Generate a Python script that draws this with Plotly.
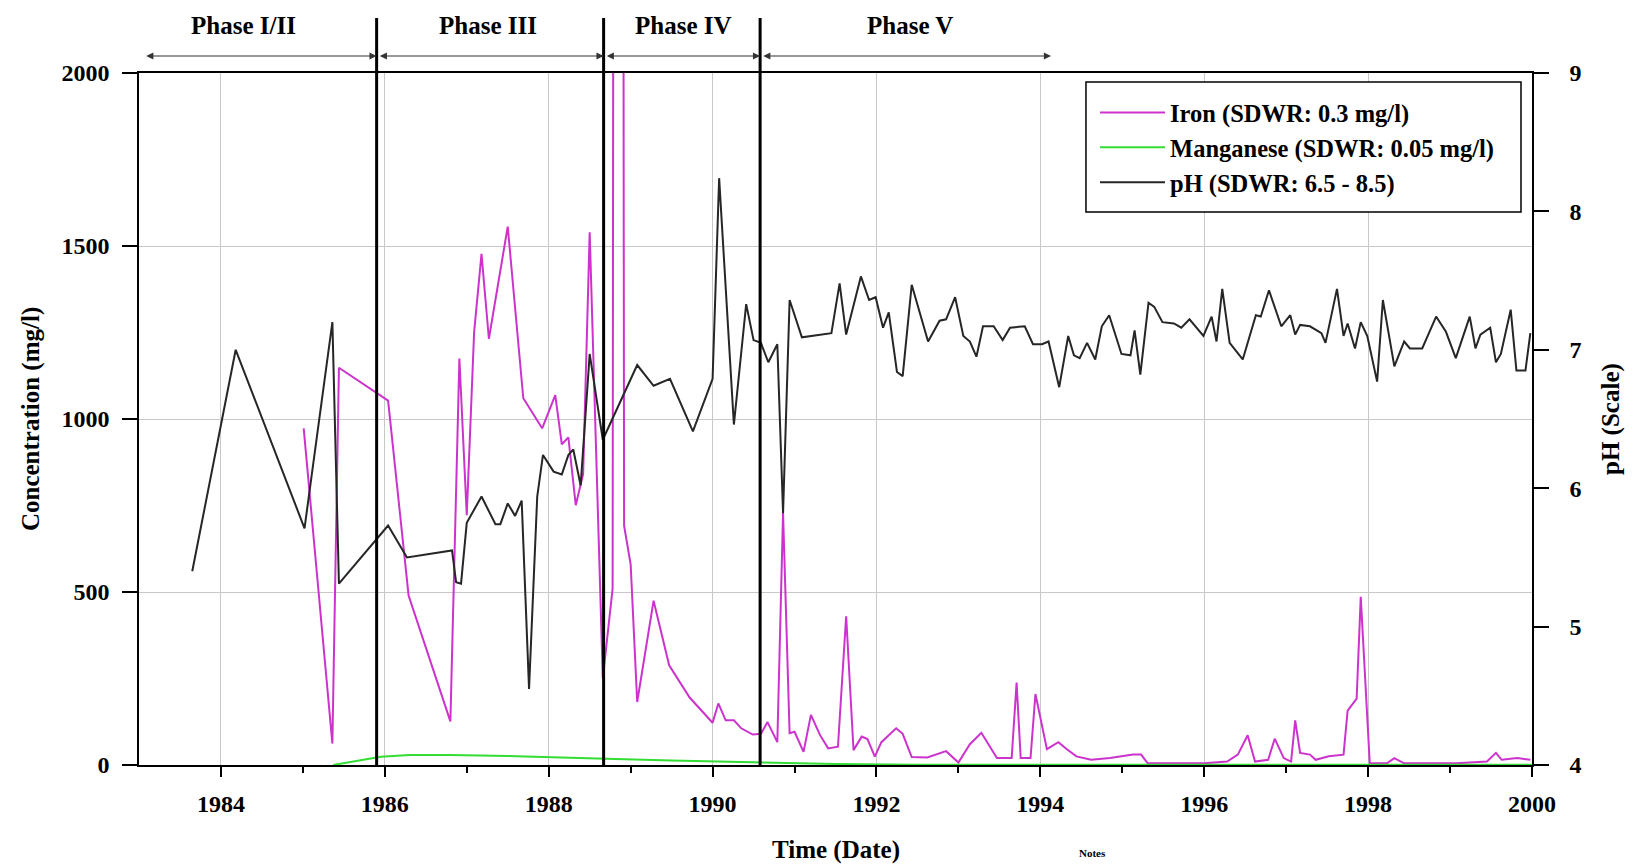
import plotly.graph_objects as go

# ---------------- data ----------------
iron_year = [1985.01, 1985.36, 1985.44, 1986.04, 1986.29, 1986.80, 1986.91, 1987.00, 1987.09, 1987.18,
             1987.27, 1987.50, 1987.69, 1987.92, 1988.08, 1988.16, 1988.24, 1988.33, 1988.42, 1988.50,
             1988.66, 1988.78, 1988.79, 1988.91, 1988.92, 1989.00, 1989.08, 1989.28, 1989.47, 1989.72,
             1990.00, 1990.07, 1990.16, 1990.26, 1990.35, 1990.49, 1990.59, 1990.67, 1990.79, 1990.86,
             1990.94, 1991.00, 1991.11, 1991.20, 1991.31, 1991.41, 1991.53, 1991.63, 1991.72, 1991.82,
             1991.89, 1991.98, 1992.06, 1992.24, 1992.32, 1992.43, 1992.62, 1992.85, 1993.00, 1993.14,
             1993.28, 1993.47, 1993.65, 1993.71, 1993.76, 1993.88, 1993.94, 1994.08, 1994.22, 1994.32,
             1994.44, 1994.62, 1994.85, 1994.99, 1995.13, 1995.23, 1995.31, 1995.63, 1996.00, 1996.28,
             1996.41, 1996.53, 1996.62, 1996.78, 1996.86, 1996.97, 1997.06, 1997.11, 1997.17, 1997.29,
             1997.36, 1997.52, 1997.70, 1997.75, 1997.86, 1997.91, 1998.02, 1998.23, 1998.32, 1998.44,
             1999.08, 1999.45, 1999.56, 1999.63, 1999.82, 1999.98]
iron_conc = [973, 62, 1148, 1053, 490, 126, 1175, 722, 1252, 1477,
             1232, 1556, 1060, 973, 1069, 927, 947, 751, 841, 1540,
             250, 510, 2700, 2700, 692, 580, 182, 475, 288, 195,
             122, 178, 129, 129, 106, 88, 90, 124, 66, 728,
             92, 96, 38, 145, 87, 48, 53, 430, 43, 82,
             75, 24, 66, 106, 90, 23, 22, 40, 7, 60,
             93, 20, 20, 238, 20, 20, 205, 46, 66, 46,
             25, 15, 20, 25, 30, 30, 5, 5, 5, 10,
             30, 86, 10, 15, 76, 20, 10, 129, 35, 30,
             15, 25, 30, 157, 192, 486, 5, 5, 20, 5,
             5, 10, 35, 15, 20, 15]

mn_year = [1985.37, 1985.65, 1985.95, 1986.30, 1986.80, 1987.50, 1988.00, 1988.70, 1989.50,
           1990.30, 1990.80, 1991.50, 1992.50, 1994.00, 1996.00, 1998.00, 2000.00]
mn_conc = [0, 12, 24, 29, 29, 26, 22, 18, 13, 9, 6, 3, 1, 1, 1, 1, 1]

ph_year = [1983.65, 1984.18, 1985.02, 1985.36, 1985.44, 1986.04, 1986.27, 1986.82, 1986.87, 1986.93,
           1987.00, 1987.18, 1987.35, 1987.41, 1987.50, 1987.59, 1987.67, 1987.76, 1987.86, 1987.93,
           1988.06, 1988.16, 1988.24, 1988.30, 1988.39, 1988.50, 1988.66, 1989.08, 1989.28, 1989.48,
           1989.76, 1990.00, 1990.08, 1990.26, 1990.41, 1990.50, 1990.59, 1990.68, 1990.79, 1990.86,
           1990.94, 1991.09, 1991.45, 1991.55, 1991.63, 1991.81, 1991.91, 1991.99, 1992.08, 1992.15,
           1992.25, 1992.32, 1992.43, 1992.63, 1992.77, 1992.85, 1992.96, 1993.06, 1993.14, 1993.22,
           1993.30, 1993.43, 1993.54, 1993.63, 1993.81, 1993.91, 1994.02, 1994.10, 1994.23, 1994.34,
           1994.41, 1994.48, 1994.57, 1994.67, 1994.75, 1994.84, 1994.99, 1995.10, 1995.15, 1995.22,
           1995.32, 1995.39, 1995.49, 1995.63, 1995.72, 1995.82, 1995.99, 1996.09, 1996.15, 1996.22,
           1996.31, 1996.47, 1996.63, 1996.69, 1996.79, 1996.94, 1997.05, 1997.11, 1997.17, 1997.29,
           1997.43, 1997.48, 1997.62, 1997.70, 1997.75, 1997.84, 1997.91, 1997.99, 1998.11, 1998.18,
           1998.32, 1998.44, 1998.51, 1998.66, 1998.83, 1998.95, 1999.07, 1999.24, 1999.31, 1999.37,
           1999.49, 1999.56, 1999.62, 1999.74, 1999.81, 1999.92, 1999.98]
ph_value = [5.40, 7.00, 5.71, 7.20, 5.31, 5.73, 5.50, 5.55, 5.32, 5.31,
            5.75, 5.94, 5.74, 5.74, 5.89, 5.80, 5.91, 4.55, 5.94, 6.24,
            6.12, 6.10, 6.24, 6.28, 6.02, 6.97, 6.35, 6.89, 6.74, 6.79,
            6.41, 6.79, 8.24, 6.46, 7.33, 7.07, 7.05, 6.91, 7.04, 5.82,
            7.36, 7.09, 7.12, 7.48, 7.11, 7.53, 7.36, 7.38, 7.16, 7.27,
            6.84, 6.81, 7.47, 7.06, 7.21, 7.22, 7.38, 7.10, 7.06, 6.95,
            7.17, 7.17, 7.07, 7.16, 7.17, 7.04, 7.04, 7.06, 6.73, 7.10,
            6.96, 6.94, 7.05, 6.93, 7.17, 7.25, 6.97, 6.96, 7.14, 6.82,
            7.34, 7.31, 7.20, 7.19, 7.16, 7.22, 7.10, 7.24, 7.06, 7.44,
            7.05, 6.93, 7.25, 7.24, 7.43, 7.17, 7.25, 7.11, 7.18, 7.17,
            7.12, 7.05, 7.44, 7.10, 7.19, 7.01, 7.20, 7.10, 6.77, 7.36,
            6.88, 7.06, 7.01, 7.01, 7.24, 7.13, 6.94, 7.24, 7.01, 7.11,
            7.16, 6.91, 6.97, 7.29, 6.85, 6.85, 7.12]

series_names = ["Iron (SDWR: 0.3 mg/l)", "Manganese (SDWR: 0.05 mg/l)", "pH (SDWR: 6.5 - 8.5)"]

phase_bounds = [1983.05, 1985.90, 1988.67, 1990.58, 1994.13]
phase_lines = [1985.90, 1988.67, 1990.58]
phase_labels = ["Phase I/II", "Phase III", "Phase IV", "Phase V"]
phase_label_x = [1984.27, 1987.26, 1989.64, 1992.41]

x_ticks = [1984, 1986, 1988, 1990, 1992, 1994, 1996, 1998, 2000]
x_minor = [1985, 1987, 1989, 1991, 1993, 1995, 1997, 1999]
y_ticks = [0, 500, 1000, 1500, 2000]
ph_ticks = [4, 5, 6, 7, 8, 9]

# ---------------- figure ----------------
FONT = "Liberation Serif"
fig = go.Figure()

fig.add_trace(go.Scatter(x=iron_year, y=iron_conc, mode="lines", name=series_names[0],
                         line=dict(color="#cc33cc", width=2)))
fig.add_trace(go.Scatter(x=mn_year, y=mn_conc, mode="lines", name=series_names[1],
                         line=dict(color="#33dd33", width=2)))
fig.add_trace(go.Scatter(x=ph_year, y=ph_value, mode="lines", name=series_names[2], yaxis="y2",
                         line=dict(color="#262626", width=2)))

shapes = []
for xv in phase_lines:
    shapes.append(dict(type="line", xref="x", yref="paper", x0=xv, x1=xv, y0=0, y1=1.0795,
                       line=dict(color="black", width=3), layer="above"))
# legend frame
shapes.append(dict(type="rect", xref="paper", yref="paper", x0=0.6798, x1=0.9921, y0=0.7991, y1=0.987,
                   line=dict(color="black", width=1.5), fillcolor="white", layer="above"))

annotations = []
arrow_y = 1.0246
for i in range(len(phase_labels)):
    annotations.append(dict(x=phase_bounds[i + 1], y=arrow_y, xref="x", yref="paper",
                            ax=phase_bounds[i] + 0.02, ay=0, axref="x", ayref="pixel",
                            text="", showarrow=True, arrowside="end+start",
                            arrowhead=2, startarrowhead=2, arrowsize=1.3, startarrowsize=1.3,
                            arrowwidth=1.1, arrowcolor="#333333", standoff=0, startstandoff=0))
    annotations.append(dict(x=phase_label_x[i], y=1.068, xref="x", yref="paper",
                            text=phase_labels[i], showarrow=False, xanchor="center", yanchor="middle",
                            font=dict(family=FONT, size=25, color="black", weight="bold")))

annotations.append(dict(x=-0.0775, y=0.5, xref="paper", yref="paper", text="Concentration (mg/l)",
                        textangle=-90, showarrow=False, xanchor="center", yanchor="middle",
                        font=dict(family=FONT, size=25, color="black", weight="bold")))
annotations.append(dict(x=1.0567, y=0.5, xref="paper", yref="paper", text="pH (Scale)",
                        textangle=-90, showarrow=False, xanchor="center", yanchor="middle",
                        font=dict(family=FONT, size=25, color="black", weight="bold")))
annotations.append(dict(x=1991.5, y=-0.123, xref="x", yref="paper", text="Time (Date)",
                        showarrow=False, xanchor="center", yanchor="middle",
                        font=dict(family=FONT, size=25, color="black", weight="bold")))
annotations.append(dict(x=1994.64, y=-0.139, xref="x", yref="paper", text="Notes",
                        showarrow=False, xanchor="center", yanchor="bottom",
                        font=dict(family=FONT, size=11, color="black", weight="bold")))

tickfont = dict(family=FONT, size=24, color="black", weight="bold")

fig.update_layout(
    width=1637, height=864,
    margin=dict(l=139, r=105, t=73, b=99),
    paper_bgcolor="white", plot_bgcolor="white",
    font=dict(family=FONT, color="black"),
    shapes=shapes, annotations=annotations,
    showlegend=True,
    legend=dict(x=0.6863, y=0.9754, xanchor="left", yanchor="top",
                bgcolor="rgba(0,0,0,0)", borderwidth=0,
                font=dict(family=FONT, size=24.5, color="black", weight="bold"),
                tracegroupgap=0, itemwidth=65),
    xaxis=dict(range=[1983, 2000], tickmode="array", tickvals=x_ticks,
               ticks="outside", ticklen=10, tickwidth=1.5, tickcolor="black",
               showline=True, linecolor="black", linewidth=1.5, mirror=True,
               showgrid=True, gridcolor="#c8c8c8", gridwidth=1, zeroline=False,
               tickfont=tickfont, ticklabelstandoff=6,
               minor=dict(tickmode="array", tickvals=x_minor,
                          ticks="outside", ticklen=6, tickcolor="black", showgrid=False)),
    yaxis=dict(range=[0, 2000], tickmode="array", tickvals=y_ticks,
               ticks="outside", ticklen=15, tickwidth=1.5, tickcolor="black",
               showline=True, linecolor="black", linewidth=1.5, mirror=True,
               showgrid=True, gridcolor="#c8c8c8", gridwidth=1, zeroline=False,
               tickfont=tickfont, ticklabelstandoff=8),
    yaxis2=dict(range=[4, 9], tickmode="array", tickvals=ph_ticks, overlaying="y", side="right",
                ticks="outside", ticklen=15, tickwidth=1.5, tickcolor="black",
                showline=True, linecolor="black", linewidth=1.5,
                showgrid=False, zeroline=False, tickfont=tickfont, ticklabelstandoff=16),
)

fig.write_html("out.html")
